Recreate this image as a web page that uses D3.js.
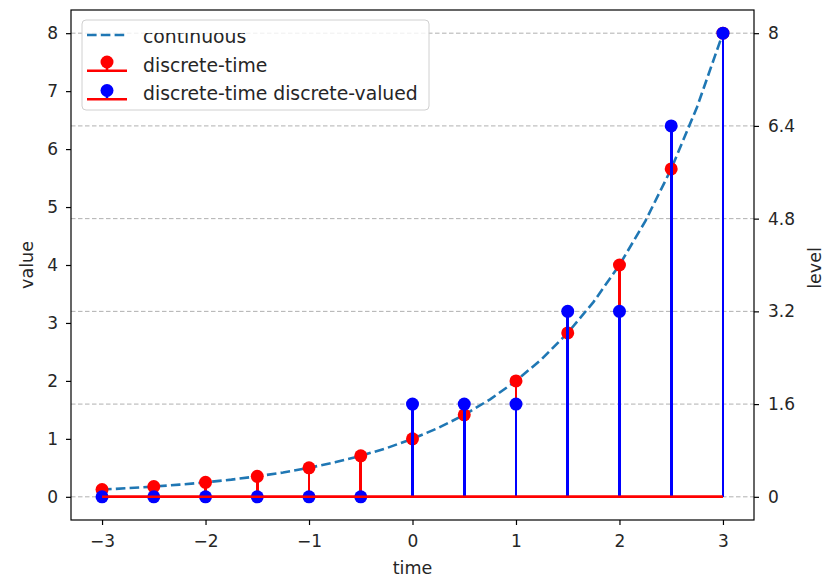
<!DOCTYPE html>
<html><head><meta charset="utf-8">
<script src="https://cdn.jsdelivr.net/npm/d3@7"></script>
<style>
body{margin:0;background:#fff;}
text{font-family:"DejaVu Sans",sans-serif;fill:#262626;}
</style></head>
<body><svg id="c" width="828" height="577"></svg>
<script>
const contT = [-3,-2.75,-2.5,-2.25,-2,-1.75,-1.5,-1.25,-1,-0.75,-0.5,-0.25,0,0.25,0.5,0.75,1,1.25,1.5,1.75,2,2.25,2.5,2.75,3];
const contV = [0.125,0.149,0.177,0.210,0.25,0.297,0.354,0.420,0.5,0.595,0.707,0.841,1,1.189,1.414,1.682,2,2.378,2.828,3.364,4,4.757,5.657,6.727,8];
const sampleT = [-3,-2.5,-2,-1.5,-1,-0.5,0,0.5,1,1.5,2,2.5,3];
const discreteV = [0.125,0.177,0.25,0.354,0.5,0.707,1,1.414,2,2.828,4,5.657,8];
const quantV = [0,0,0,0,0,0,1.6,1.6,1.6,3.2,3.2,6.4,8];
const xTicks = [-3,-2,-1,0,1,2,3];
const yTicks = [0,1,2,3,4,5,6,7,8];
const levelTicks = [0,1.6,3.2,4.8,6.4,8];
const levelLabels = ["0","1.6","3.2","4.8","6.4","8"];
const legendLabels = ["continuous","discrete-time","discrete-time discrete-valued"];

const L=71,R=754,T=10,B=520;
const svg=d3.select("#c");
const x=d3.scaleLinear().domain([-3.3,3.3]).range([L,R]);
const y=d3.scaleLinear().domain([-0.4,8.4]).range([B,T]);

// grid at levels
svg.append("g").selectAll("line").data(levelTicks).join("line")
 .attr("x1",L).attr("x2",R).attr("y1",d=>y(d)).attr("y2",d=>y(d))
 .attr("stroke","#b0b0b0").attr("stroke-width",1).attr("stroke-dasharray","4.5,2.5");

// continuous
svg.append("path").datum(contT.map((t,i)=>[t,contV[i]]))
 .attr("d",d3.line().x(d=>x(d[0])).y(d=>y(d[1])))
 .attr("fill","none").attr("stroke","#1f77b4").attr("stroke-width",2.6).attr("stroke-dasharray","9.6,4.2");

function stems(vals,color){
 const g=svg.append("g");
 g.selectAll("line.s").data(sampleT).join("line").attr("class","s")
  .attr("x1",d=>x(d)).attr("x2",d=>x(d)).attr("y1",y(0)).attr("y2",(d,i)=>y(vals[i]))
  .attr("stroke",color).attr("stroke-width",2.6).attr("shape-rendering","crispEdges");
 g.selectAll("circle").data(sampleT).join("circle")
  .attr("cx",d=>x(d)).attr("cy",(d,i)=>y(vals[i])).attr("r",6.5).attr("fill",color);
 g.append("line").attr("x1",x(sampleT[0])).attr("x2",x(sampleT[sampleT.length-1]))
  .attr("y1",y(0)).attr("y2",y(0)).attr("stroke","#ff0000").attr("stroke-width",2.6);
}
stems(discreteV,"#ff0000");
stems(quantV,"#0000ff");

// axes frame
svg.append("rect").attr("x",L).attr("y",T).attr("width",R-L).attr("height",B-T)
 .attr("fill","none").attr("stroke","#000").attr("stroke-width",1.2);

const fmt=d=>String(d).replace("-","\u2212");
const xa=svg.append("g").attr("transform",`translate(0,${B})`)
 .call(d3.axisBottom(x).tickValues(xTicks).tickFormat(fmt).tickSizeOuter(0).tickSize(5).tickPadding(10));
const ya=svg.append("g").attr("transform",`translate(${L},0)`)
 .call(d3.axisLeft(y).tickValues(yTicks).tickFormat(fmt).tickSizeOuter(0).tickSize(5).tickPadding(8));
const ra=svg.append("g").attr("transform",`translate(${R},0)`)
 .call(d3.axisRight(y).tickValues(levelTicks).tickFormat((d,i)=>levelLabels[i]).tickSizeOuter(0).tickSize(5).tickPadding(9));
[xa,ya,ra].forEach(a=>{a.select(".domain").remove();
 a.selectAll("text").style("font-size","17px").attr("fill","#262626").style("font-family","DejaVu Sans");
 a.selectAll("line").attr("stroke","#000").attr("stroke-width",1.2);});

svg.append("text").attr("x",(L+R)/2).attr("y",574).attr("text-anchor","middle").style("font-size","17.5px").text("time");
svg.append("text").attr("transform",`translate(33,${(T+B)/2}) rotate(-90)`).attr("text-anchor","middle").style("font-size","17.5px").text("value");
svg.append("text").attr("transform",`translate(821,${(T+B)/2+3}) rotate(-90)`).attr("text-anchor","middle").style("font-size","17.5px").text("level");

// legend
const defs=svg.append("defs");
defs.append("clipPath").attr("id","lgclip").append("rect").attr("x",82).attr("y",33).attr("width",347).attr("height",77);
const lg=svg.append("g");
lg.append("rect").attr("x",82).attr("y",20).attr("width",347).attr("height",90).attr("rx",4)
 .attr("fill","#fff").attr("fill-opacity",0.8).attr("stroke","#d0d0d0").attr("stroke-width",1);
const inner=lg.append("g").attr("clip-path","url(#lgclip)");
const base=[43,71.5,100];
inner.append("line").attr("x1",87).attr("x2",127).attr("y1",35).attr("y2",35)
 .attr("stroke","#1f77b4").attr("stroke-width",2.6).attr("stroke-dasharray","9.6,4.2");
[["#ff0000",base[1]],["#0000ff",base[2]]].forEach(([c,bl])=>{
 inner.append("line").attr("x1",107).attr("x2",107).attr("y1",bl-0.8).attr("y2",bl-9.5).attr("stroke",c).attr("stroke-width",2.6);
 inner.append("circle").attr("cx",107).attr("cy",bl-9.5).attr("r",6.5).attr("fill",c);
 inner.append("line").attr("x1",87).attr("x2",127).attr("y1",bl-0.8).attr("y2",bl-0.8).attr("stroke","#ff0000").attr("stroke-width",2.6);
});
inner.selectAll("text.l").data(legendLabels).join("text").attr("class","l")
 .attr("x",143).attr("y",(d,i)=>base[i]).style("font-size","18.8px").text(d=>d);
</script></body></html>
